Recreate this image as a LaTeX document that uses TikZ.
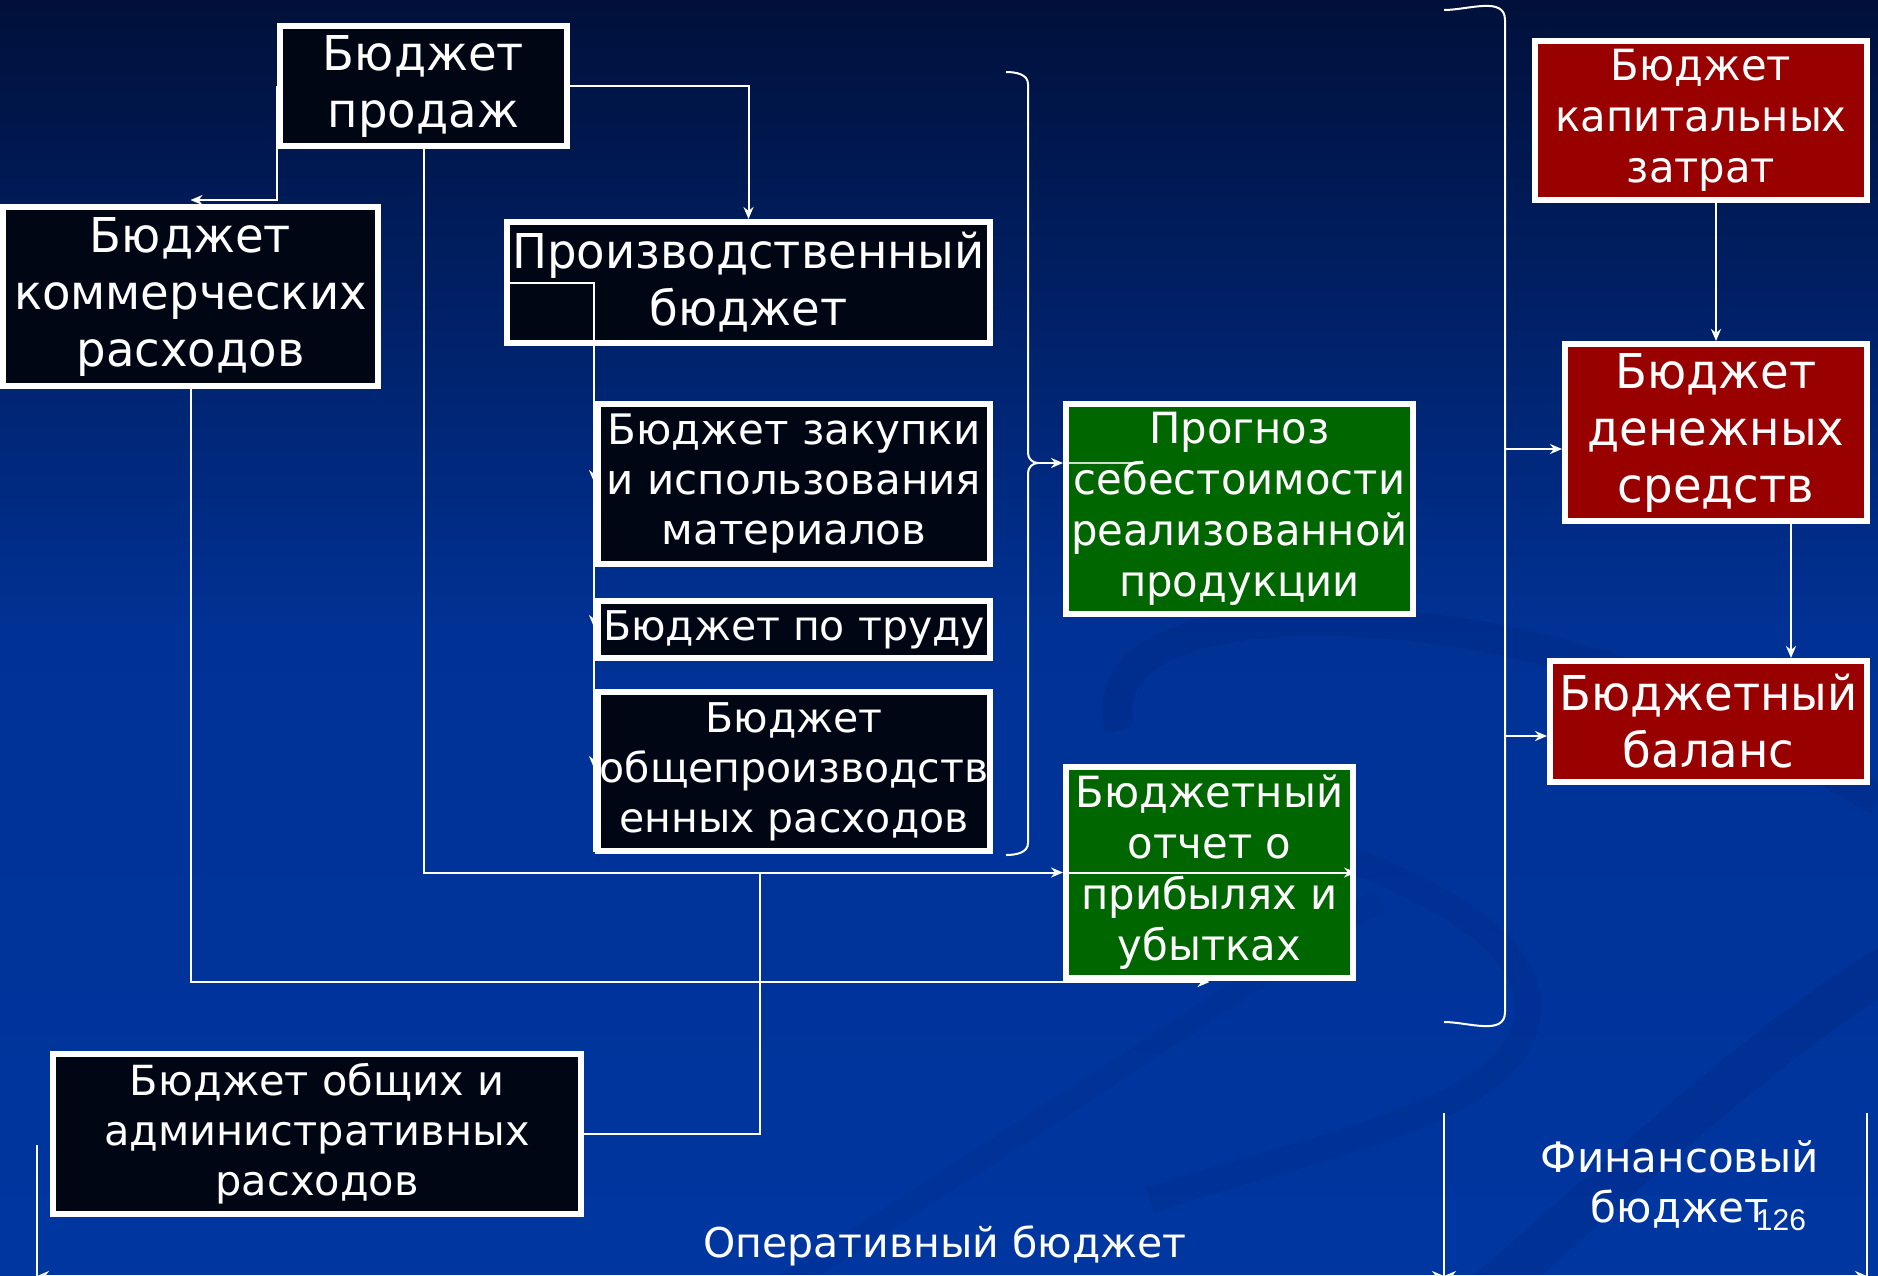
\documentclass[tikz,border=0pt]{standalone}
\usepackage{fontspec}
\setmainfont{DejaVu Sans}
\newfontfamily\condf[FakeStretch=0.97]{DejaVu Sans}
\newfontfamily\arialf{Liberation Sans}
\usetikzlibrary{arrows.meta,calc}
\definecolor{bgtop}{RGB}{0,16,58}
\definecolor{bgmid}{RGB}{0,50,150}
\definecolor{bgbot}{RGB}{0,54,160}
\definecolor{boxblack}{RGB}{0,6,20}
\definecolor{boxgreen}{RGB}{0,102,0}
\definecolor{boxred}{RGB}{153,0,0}
\definecolor{swirl}{RGB}{0,30,110}
\tikzset{
  box/.style={draw=white, line width=6pt, inner sep=0pt, align=center, text=white},
  blk/.style={box, fill=boxblack},
  grn/.style={box, fill=boxgreen},
  redbox/.style={box, fill=boxred},
  fw/.style={font=\fontsize{42}{50}\selectfont},
  fws/.style={font=\fontsize{41}{50}\selectfont},
  fa/.style={font=\condf\fontsize{48}{57}\selectfont},
  fb/.style={font=\condf\fontsize{43}{51}\selectfont},
  conn/.style={draw=white, line width=2pt},
  arr/.style={conn, -{Stealth[length=12pt,width=10pt]}},
  dimarr/.style={conn, {Stealth[length=12pt,width=10pt]}-{Stealth[length=12pt,width=10pt]}},
  lbl/.style={text=white, align=center, inner sep=0pt}
}
\begin{document}
\begin{tikzpicture}[x=1pt,y=-1pt]
\useasboundingbox (0,0) rectangle (1878,1275);
\clip (0,0) rectangle (1878,1275);
% background
\shade[top color=bgtop, bottom color=bgmid] (0,0) rectangle (1878,640);
\shade[top color=bgmid, bottom color=bgbot] (0,639) rectangle (1878,1275);
% faint swirls
\draw[swirl, opacity=0.18, line width=30pt] (1120,730) .. controls (1090,620) and (1300,600) .. (1500,640) .. controls (1700,680) and (1800,760) .. (1878,800);
\draw[swirl, opacity=0.15, line width=26pt] (1250,830) .. controls (1450,880) and (1560,960) .. (1520,1040) .. controls (1480,1120) and (1300,1150) .. (1150,1200);
\draw[swirl, opacity=0.2, line width=44pt] (1480,1300) .. controls (1650,1150) and (1780,1030) .. (1900,960);
\draw[swirl, opacity=0.12, line width=22pt] (760,1300) .. controls (1000,1150) and (1250,980) .. (1380,900);

% coordinates
\coordinate (j1) at (760,872);
\coordinate (pe) at (594,852);
\coordinate (sb) at (1038,463);
\coordinate (bb1) at (1504,449);
\coordinate (bb2) at (1504,736);
\coordinate (t1) at (594,482);
\coordinate (t2) at (594,627);
\coordinate (t3) at (594,768);

% partially hidden tips
\foreach \t in {t1,t2,t3}{
  \draw[arr] ([yshift=10pt]\t) -- (\t);
}

% nodes
\node[blk, fa, minimum width=287pt, minimum height=120pt] (prod) at (423.5,86) {Бюджет\\продаж};
\node[blk, fa, minimum width=375pt, minimum height=179pt] (comm) at (190.5,296.5) {Бюджет\\коммерческих\\расходов};

% arrows that pass under boxes
\draw[arr] (prod.west) |- ([yshift=4pt]comm.north);
\draw[arr] (comm.south) |- ([yshift=-1pt]1209.5,981);

\node[blk, fa, minimum width=483pt, minimum height=121pt] (proizv) at (748.5,282.5) {Производственный\\бюджет};
\node[blk, fw, minimum width=392pt, minimum height=160pt] (zakup) at (794,484) {Бюджет закупки\\и использования\\материалов};
\node[blk, fws, minimum width=392pt, minimum height=57pt] (trud) at (794,629.5) {Бюджет по труду};
\node[blk, fws, minimum width=392pt, minimum height=159pt] (obshpr) at (794,771.5) {Бюджет\\общепроизводств\\енных расходов};
\node[grn, fb, minimum width=347pt, minimum height=210pt] (prognoz) at (1239.5,509) {Прогноз\\себестоимости\\реализованной\\продукции};
\node[grn, fb, minimum width=287pt, minimum height=211pt] (otchet) at (1209.5,872.5) {Бюджетный\\отчет о\\прибылях и\\убытках};
\node[blk, font=\fontsize{41.5}{50}\selectfont, minimum width=528pt, minimum height=160pt] (admin) at (317,1134) {Бюджет общих и\\административных\\расходов};
\node[redbox, fb, minimum width=332pt, minimum height=159pt] (kap) at (1701,120.5) {Бюджет\\капитальных\\затрат};
\node[redbox, fa, minimum width=302pt, minimum height=177pt] (den) at (1716,432.5) {Бюджет\\денежных\\средств};
\node[redbox, fa, minimum width=317pt, minimum height=121pt] (bal) at (1708.5,721.5) {Бюджетный\\баланс};

% connectors
\draw[arr] (prod.east) -| (proizv.north);
\draw[arr] (prod.south) |- (otchet.west);
\draw[arr] (otchet.west) -- (otchet.east);
\draw[conn] (admin.east) -| (j1);
\draw[conn] (proizv.west) -| (pe);
\draw[arr] (den.north |- kap.south) -- (den.north);
\draw[arr] ([xshift=75pt]den.south) -- ([xshift=75pt]den.south |- bal.north);

% small brace
\draw[conn] (1006,72) to[out=0,in=90] (1028,84) -- (1028,453) to[out=-90,in=180] (sb)
            to[out=180,in=90] (1028,473) -- (1028,843) to[out=-90,in=0] (1006,855);
\draw[arr] (sb) -- (sb -| prognoz.west);
\draw[white, line width=1.5pt, opacity=0.8] (sb -| prognoz.west) -- ++(72,0);

% big brace
\draw[conn] (1444,10) to[out=0,in=90] (1505,20) -- (1505,1012) to[out=-90,in=0] (1444,1022);
\draw[arr] (bb1) -- (bb1 -| den.west);
\draw[arr] (bb2) -- (bb2 -| bal.west);

% dimension lines
\coordinate (d1) at (37,1145);
\coordinate (d1b) at (37,1276);
\coordinate (d2) at (1444,1113);
\coordinate (d2b) at (1444,1276);
\coordinate (d3) at (1867,1113);
\coordinate (d3b) at (1867,1276);
\draw[conn] (d1) -- (d1b);
\draw[conn] (d2) -- (d2b);
\draw[conn] (d3) -- (d3b);
\draw[dimarr] (d1b) -- (d2b);
\draw[dimarr] (d2b) -- (d3b);

% labels
\node[lbl, font=\fontsize{41}{50}\selectfont] (oper) at (945,1246) {Оперативный бюджет};
\node[lbl, font=\fontsize{42}{50}\selectfont] (fin) at (1680,1184) {Финансовый\\бюджет};
\node[lbl, font=\arialf\fontsize{30}{36}\selectfont] (pgno) at (1781,1220) {126};
\end{tikzpicture}
\end{document}
